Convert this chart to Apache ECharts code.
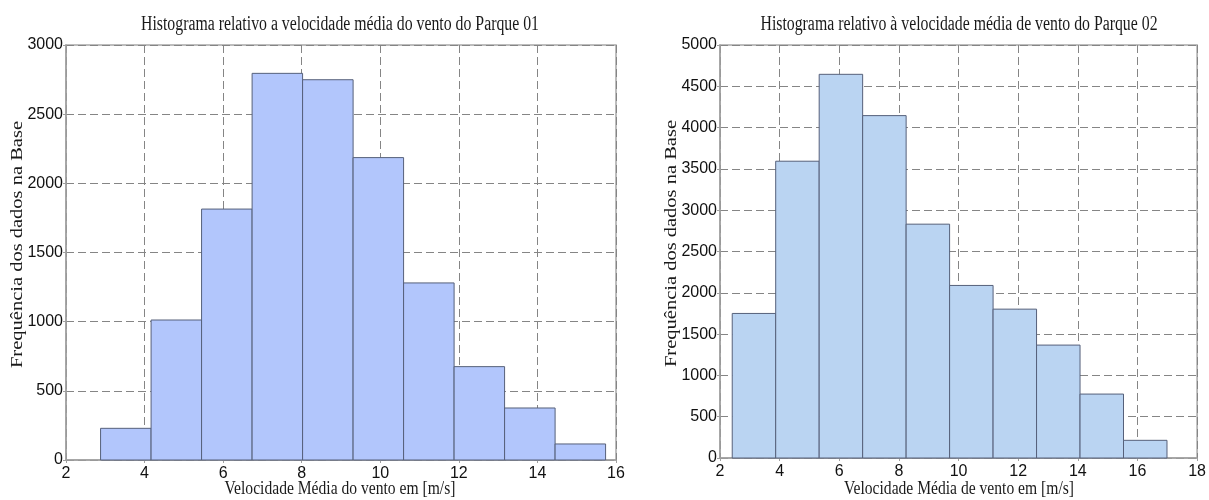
<!DOCTYPE html>
<html>
<head>
<meta charset="utf-8">
<script src="https://cdn.jsdelivr.net/npm/echarts@6/dist/echarts.min.js"></script>
<style>
  html, body { margin: 0; padding: 0; background: #fff; }
  #chart { width: 1209px; height: 500px; }
</style>
</head>
<body>
<div id="chart"></div>
<script>
// Parque 01: histogram bin edges [m/s] and counts
const park1Edges = [2.88, 4.166, 5.451, 6.737, 8.022, 9.308, 10.593, 11.879, 13.164, 14.45, 15.735];
const park1Counts = [229, 1012, 1814, 2795, 2749, 2186, 1280, 675, 376, 116];

// Parque 02: histogram bin edges [m/s] and counts
const park2Edges = [2.41, 3.868, 5.326, 6.784, 8.242, 9.70, 11.158, 12.616, 14.074, 15.532, 16.99];
const park2Counts = [1750, 3593, 4645, 4145, 2831, 2089, 1802, 1367, 774, 214];

const titles = [
  'Histograma relativo a velocidade média do vento do Parque 01',
  'Histograma relativo à velocidade média de vento do Parque 02'
];
const xNames = [
  'Velocidade Média do vento em [m/s]',
  'Velocidade Média de vento em [m/s]'
];
const yName = 'Frequência dos dados na Base';

function binData(edges, counts) {
  return counts.map((c, i) => [edges[i], edges[i + 1], c]);
}

const serif = '"Liberation Serif", "Times New Roman", serif';
const sans = '"Liberation Sans", Arial, sans-serif';

// Plot rectangles of the two panels
const panels = [
  { left: 66, top: 45, width: 550, height: 415 },
  { left: 720, top: 45, width: 480, height: 413 }
];

function renderBin(api) {
  const p0 = api.coord([api.value(0), api.value(2)]);
  const p1 = api.coord([api.value(1), 0]);
  return {
    type: 'rect',
    shape: { x: p0[0], y: p0[1], width: p1[0] - p0[0], height: p1[1] - p0[1] },
    style: api.style()
  };
}

const gridLine = { show: true, lineStyle: { color: '#858585', type: [8, 4], width: 1 } };

function xAxisOf(gridIndex, min, max) {
  return {
    type: 'value', gridIndex, min, max, interval: 2,
    axisLine: { show: true, lineStyle: { color: '#a0a0a0', width: 1.5 } },
    axisTick: { show: true, length: 3, lineStyle: { color: '#a0a0a0' } },
    axisLabel: { fontFamily: sans, fontSize: 16, color: '#111', margin: 6, formatter: v => String(v) },
    splitLine: gridLine
  };
}

function yAxisOf(gridIndex, max) {
  return {
    type: 'value', gridIndex, min: 0, max, interval: 500,
    axisLine: { show: true, lineStyle: { color: '#a0a0a0', width: 1.5 } },
    axisTick: { show: true, length: 3, lineStyle: { color: '#a0a0a0' } },
    axisLabel: { fontFamily: sans, fontSize: 16, color: '#111', margin: 3, formatter: v => String(v) },
    splitLine: gridLine
  };
}

// Condensed serif captions (titles and axis names)
function caption(text, x, y, size, squeeze, vertical) {
  return {
    type: 'text', x, y,
    rotation: vertical ? Math.PI / 2 : 0,
    scaleX: vertical ? 1 : squeeze,
    scaleY: vertical ? squeeze : 1,
    silent: true,
    style: {
      text, font: size + 'px ' + serif, fill: '#1a1a1a',
      textAlign: 'center', textVerticalAlign: 'middle'
    }
  };
}

const captions = [];
panels.forEach((p, i) => {
  const cx = p.left + p.width / 2;
  captions.push(caption(titles[i], cx - 1, 25, 20, 0.79, false));
  captions.push(caption(xNames[i], cx - 1, 489, 19.5, 0.8, false));
  captions.push(caption(yName, p.left - 48, p.top + p.height / 2 - 8, 20.5, 0.8, true));
});

const chart = echarts.init(document.getElementById('chart'));
chart.setOption({
  animation: false,
  backgroundColor: '#fff',
  grid: panels.map(p => Object.assign({ show: true, borderColor: '#a8a8a8', borderWidth: 1.5, backgroundColor: '#fff' }, p)),
  xAxis: [xAxisOf(0, 2, 16), xAxisOf(1, 2, 18)],
  yAxis: [yAxisOf(0, 3000), yAxisOf(1, 5000)],
  series: [
    {
      type: 'custom', xAxisIndex: 0, yAxisIndex: 0,
      renderItem: (params, api) => renderBin(api),
      itemStyle: { color: '#b2c6fc', borderColor: '#56607a', borderWidth: 1 },
      encode: { x: [0, 1], y: 2 },
      data: binData(park1Edges, park1Counts)
    },
    {
      type: 'custom', xAxisIndex: 1, yAxisIndex: 1,
      renderItem: (params, api) => renderBin(api),
      itemStyle: { color: '#bad4f2', borderColor: '#56607a', borderWidth: 1 },
      encode: { x: [0, 1], y: 2 },
      data: binData(park2Edges, park2Counts)
    }
  ],
  graphic: captions
});
</script>
</body>
</html>
